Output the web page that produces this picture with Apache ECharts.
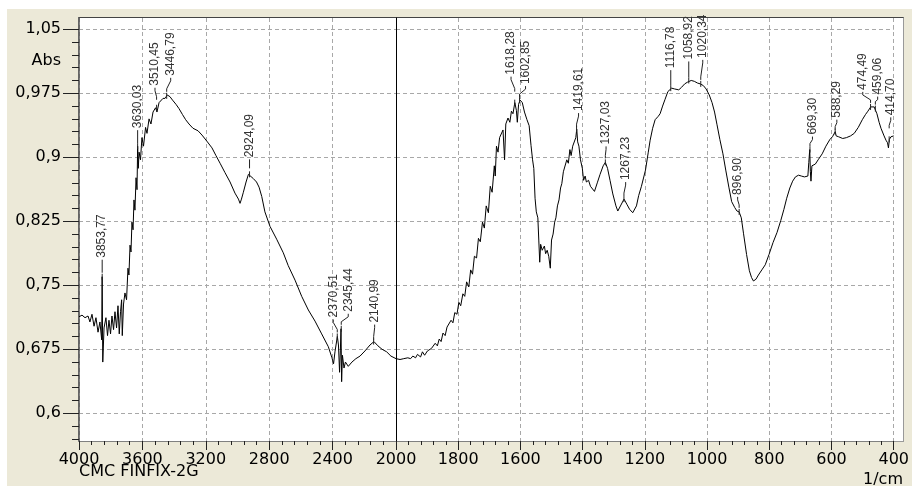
<!DOCTYPE html>
<html>
<head>
<meta charset="utf-8">
<script src="https://cdn.jsdelivr.net/npm/echarts@6/dist/echarts.min.js"></script>
<style>
html,body{margin:0;padding:0;background:#fff;}
#wrap{position:relative;width:912px;height:486px;overflow:hidden;}
#panel{position:absolute;left:7px;top:9px;width:905px;height:477px;background:#ECE9D8;}
#plot{position:absolute;left:78px;top:17px;width:826px;height:425px;background:#fff;box-sizing:border-box;border:1px solid #999;border-top-color:#444;}
#chart{position:absolute;left:0;top:0;width:912px;height:486px;}
</style>
</head>
<body>
<div id="wrap"><div id="panel"></div><div id="plot"></div><div id="chart"></div></div>
<script>
// ---- spectrum (wavenumber in 1/cm, absorbance) ----
const wavenumbers = [
4000,3981,3962,3943,3931,3918,3905,3893,3880,3868,
3857,3854,3850,3842,3830,3820,3811,3801,3792,3782,
3773,3763,3754,3746,3738,3731,3727,3719,3710,3700,
3691,3685,3678,3672,3666,3659,3653,3647,3640,3634,
3630,3626,3621,3612,3603,3593,3580,3571,3558,3546,
3533,3517,3508,3495,3483,3470,3457,3443,3426,3410,
3388,3369,3347,3327,3306,3281,3249,3224,3194,3161,
3136,3110,3079,3047,3016,2994,2984,2975,2963,2946,
2931,2921,2900,2880,2864,2847,2827,2795,2753,2711,
2680,2637,2595,2553,2511,2469,2427,2404,2394,2385,
2370,2363,2356,2351,2347,2343,2338,2328,2319,2301,
2278,2253,2227,2196,2164,2139,2114,2088,2059,2032,
2000,
1987,1975,1962,1953,1946,1937,1931,1921,1915,1908,
1899,1893,1886,1880,1874,1867,1861,1855,1849,1842,
1836,1830,1823,1817,1811,1804,1798,1792,1785,1779,
1773,1766,1760,1754,1748,1741,1735,1729,1722,1716,
1710,1703,1697,1691,1684,1681,1677,1672,1667,1662,
1656,1651,1647,1640,1634,1629,1624,1618,1613,1610,
1606,1601,1594,1587,1579,1572,1566,1561,1557,1553,
1549,1544,1541,1538,1535,1530,1523,1519,1514,1509,
1504,1500,1495,1490,1486,1481,1476,1471,1467,1462,
1457,1451,1446,1441,1437,1432,1427,1422,1419,1416,
1412,1407,1401,1397,1392,1388,1381,1375,1369,1362,
1353,1344,1334,1327,1320,1312,1303,1293,1287,1277,
1267,1258,1249,1239,1235,1227,1220,1211,1198,1189,
1183,1175,1167,1157,1151,1143,1135,1126,1114,1104,
1091,1082,1072,1063,1051,1041,1031,1022,1012,1003,
993,984,976,968,959,949,940,930,921,911,
904,897,890,883,873,864,857,851,843,835,
824,813,801,788,775,763,753,744,734,725,
716,706,697,687,681,676,673,670,668,666,
663,659,652,643,630,618,605,597,592,588,
585,577,564,552,539,527,514,501,491,483,
474,468,463,459,454,447,441,431,425,420,
417,414,409,403,400
];
const absorbance = [
0.713,0.715,0.712,0.714,0.707,0.716,0.702,0.712,0.695,0.707,
0.686,0.760,0.660,0.700,0.712,0.691,0.709,0.693,0.714,0.698,
0.719,0.700,0.726,0.693,0.719,0.733,0.691,0.728,0.741,0.733,
0.770,0.762,0.797,0.789,0.824,0.815,0.850,0.838,0.876,0.862,
0.913,0.887,0.906,0.897,0.923,0.913,0.935,0.928,0.945,0.939,
0.953,0.958,0.953,0.964,0.962,0.969,0.969,0.973,0.971,0.967,
0.962,0.957,0.950,0.944,0.939,0.934,0.931,0.926,0.919,0.911,
0.902,0.893,0.882,0.871,0.858,0.851,0.846,0.851,0.859,0.871,
0.880,0.880,0.875,0.871,0.865,0.854,0.836,0.819,0.804,0.788,
0.773,0.756,0.737,0.721,0.708,0.693,0.678,0.665,0.658,0.672,
0.690,0.680,0.648,0.674,0.699,0.637,0.668,0.653,0.660,0.655,
0.660,0.664,0.667,0.673,0.680,0.684,0.679,0.675,0.672,0.667,
0.664,
0.663,0.664,0.665,0.664,0.667,0.665,0.669,0.666,0.672,0.668,
0.673,0.671,0.676,0.674,0.682,0.679,0.687,0.684,0.694,0.691,
0.701,0.699,0.709,0.706,0.718,0.716,0.730,0.726,0.740,0.737,
0.754,0.748,0.768,0.763,0.784,0.782,0.805,0.801,0.824,0.817,
0.843,0.835,0.866,0.859,0.890,0.878,0.913,0.906,0.923,0.925,
0.932,0.897,0.939,0.946,0.941,0.954,0.951,0.964,0.955,0.941,
0.962,0.967,0.964,0.953,0.944,0.937,0.914,0.897,0.887,0.852,
0.836,0.829,0.803,0.777,0.798,0.791,0.796,0.787,0.791,0.784,
0.770,0.803,0.810,0.824,0.829,0.843,0.850,0.864,0.869,0.883,
0.885,0.897,0.893,0.909,0.902,0.913,0.911,0.923,0.933,0.918,
0.913,0.897,0.887,0.873,0.878,0.871,0.873,0.866,0.868,0.860,
0.870,0.880,0.890,0.894,0.887,0.873,0.857,0.843,0.837,0.844,
0.851,0.845,0.839,0.835,0.834,0.843,0.855,0.866,0.885,0.906,
0.920,0.934,0.944,0.948,0.951,0.960,0.968,0.977,0.981,0.980,
0.979,0.982,0.986,0.988,0.990,0.989,0.987,0.986,0.984,0.980,
0.973,0.964,0.953,0.938,0.921,0.904,0.885,0.865,0.848,0.841,
0.837,0.836,0.829,0.811,0.786,0.767,0.759,0.755,0.757,0.762,
0.768,0.774,0.786,0.800,0.812,0.826,0.839,0.852,0.864,0.872,
0.877,0.879,0.878,0.877,0.879,0.878,0.894,0.909,0.883,0.872,
0.890,0.891,0.892,0.897,0.904,0.913,0.921,0.924,0.924,0.930,
0.925,0.924,0.922,0.923,0.925,0.928,0.935,0.944,0.950,0.954,
0.959,0.958,0.959,0.957,0.951,0.941,0.934,0.925,0.920,0.917,
0.911,0.921,0.924,0.926,0.925
];

// ---- peak annotations ----
const peakLabels = ['3853,77','3630,03','3510,45','3446,79','2924,09','2370,51','2345,44','2140,99',
  '1618,28','1602,85','1419,61','1327,03','1267,23','1116,78','1058,92','1020,34','896,90',
  '669,30','588,29','474,49','459,06','414,70'];
const peakWavenumbers = [3853.77,3630.03,3510.45,3446.79,2924.09,2370.51,2345.44,2140.99,
  1618.28,1602.85,1419.61,1327.03,1267.23,1116.78,1058.92,1020.34,896.90,
  669.30,588.29,474.49,459.06,414.70];
const peakAbsorbance = [0.760,0.913,0.958,0.972,0.880,0.690,0.699,0.684,
  0.964,0.967,0.933,0.894,0.851,0.981,0.990,0.986,0.836,
  0.909,0.930,0.959,0.957,0.921];

// ---- axis ticks / labels ----
const yMajorTicks = [0.6,0.675,0.75,0.825,0.9,0.975,1.05];
const yUnitLabel = 'Abs';
const yUnitLabelAt = 1.0125;
const yMin = 0.5675, yMax = 1.0632;
const xLeftRange = [2000, 4000], xLeftStep = 400;
const xRightRange = [400, 2000], xRightStep = 200;
const sampleName = 'CMC FINFIX-2G';
const xUnit = '1/cm';

// layout of annotation leaders (px): horizontal shift, gap above peak, leader length
const leaderShift = [0,0,-1.6,4,0,-4,7,1,-3.7,6,2,0.7,1.7,0,0,2,-1.5,2.5,1.7,-7.8,2.3,1.6];
const leaderGap   = [4,3,8,4,6,4,4,2,11,3,2,4,3,3,3,4,4,3,2,4,4,11];
const leaderLen   = [13,13,12,14,9,13,11,15,15,11,14,12,14,15,16,20,11,10,10,11,8,11];

// ---- build ----
const leftData = [], rightData = [];
wavenumbers.forEach((w, i) => {
  if (w >= 2000) leftData.push([w, absorbance[i]]);
  if (w <= 2000) rightData.push([w, absorbance[i]]);
});
const peaksLeft = [], peaksRight = [];
peakWavenumbers.forEach((w, i) => {
  const item = {value: [w, peakAbsorbance[i]], idx: i};
  (w > 2000 ? peaksLeft : peaksRight).push(item);
});
const yMinorTicks = [];
for (let k = 38; k <= 70; k++) { if (k % 5 !== 0) yMinorTicks.push(+(k * 0.015).toFixed(4)); }

const FONT = '"DejaVu Sans", sans-serif';
const gridLine = {show: true, lineStyle: {color: '#a8a8a8', type: [4, 3], width: 1}};
const fmtY = v => Math.abs(v - yUnitLabelAt) < 1e-6 ? yUnitLabel : String(+v.toFixed(3)).replace('.', ',');

function peakRenderer(list) {
  return function (params, api) {
    const i = list[params.dataIndex].idx;
    const p = api.coord([api.value(0), api.value(1)]);
    const x0 = p[0], y0 = p[1];
    const dx = leaderShift[i], g = leaderGap[i], L = leaderLen[i];
    const yb = y0 - g, yt = yb - L;
    const pts = dx === 0 ? [[x0, yb], [x0, yt]] : [[x0, yb], [x0, yb - 3], [x0 + dx, yt + 3], [x0 + dx, yt]];
    return {
      type: 'group',
      children: [
        {type: 'line', shape: {x1: x0, y1: y0 - 3, x2: x0, y2: y0 + 3}, style: {stroke: '#222', lineWidth: 1}},
        {type: 'polyline', shape: {points: pts}, style: {stroke: '#222', lineWidth: 1, fill: null}},
        {type: 'text', x: x0 + dx, y: yt - 2, rotation: Math.PI / 2,
          style: {text: peakLabels[i], font: '12px "Liberation Sans", Arial, sans-serif', fill: '#333',
            textAlign: 'left', textVerticalAlign: 'middle'}}
      ]
    };
  };
}

const xCommon = {
  type: 'value', inverse: true,
  axisLine: {show: true, onZero: false, lineStyle: {color: '#808080', width: 1}},
  axisTick: {show: true, length: 9, lineStyle: {color: '#222'}},
  minorTick: {show: true, splitNumber: 5, length: 4, lineStyle: {color: '#222'}},
  splitLine: gridLine
};

const chart = echarts.init(document.getElementById('chart'), null, {renderer: 'canvas'});
chart.setOption({
  animation: false,
  backgroundColor: 'transparent',
  grid: [
    {left: 79, top: 18, width: 317, height: 423, show: false},
    {left: 396, top: 18, width: 507, height: 423, show: false}
  ],
  xAxis: [
    Object.assign({}, xCommon, {gridIndex: 0, min: xLeftRange[0], max: xLeftRange[1], interval: xLeftStep,
      axisLabel: {margin: 11, fontSize: 16, fontFamily: FONT, color: '#000', formatter: v => String(v)}}),
    Object.assign({}, xCommon, {gridIndex: 1, min: xRightRange[0], max: xRightRange[1], interval: xRightStep,
      axisLabel: {margin: 11, fontSize: 16, fontFamily: FONT, color: '#000',
        formatter: v => v === xRightRange[1] ? '' : String(v)}})
  ],
  yAxis: [
    {gridIndex: 0, type: 'value', position: 'left', offset: 0, min: yMin, max: yMax,
      axisLine: {show: true, lineStyle: {color: '#555', width: 1.5}},
      axisTick: {show: true, length: 16, customValues: yMajorTicks, lineStyle: {color: '#222'}},
      axisLabel: {customValues: yMajorTicks.concat([yUnitLabelAt]), formatter: fmtY, margin: 18,
        fontSize: 16, fontFamily: FONT, color: '#000'},
      splitLine: gridLine},
    {gridIndex: 1, type: 'value', position: 'left', offset: 0, min: yMin, max: yMax,
      axisLine: {show: true, lineStyle: {color: '#000', width: 1}},
      axisTick: {show: false, customValues: yMajorTicks},
      axisLabel: {show: false},
      splitLine: gridLine},
    {gridIndex: 0, type: 'value', position: 'left', offset: 0, min: yMin, max: yMax,
      axisLine: {show: false},
      axisTick: {show: true, length: 7, customValues: yMinorTicks, lineStyle: {color: '#222'}},
      axisLabel: {show: false},
      splitLine: {show: false}}
  ],
  graphic: [
    {type: 'text', left: 79, top: 464, style: {text: sampleName, font: '16px ' + FONT, fill: '#000'}},
    {type: 'text', right: 9, top: 472, style: {text: xUnit, font: '16px ' + FONT, fill: '#000'}}
  ],
  series: [
    {type: 'line', xAxisIndex: 0, yAxisIndex: 0, data: leftData, symbol: 'none', silent: true,
      lineStyle: {color: '#000', width: 1}, z: 3},
    {type: 'line', xAxisIndex: 1, yAxisIndex: 1, data: rightData, symbol: 'none', silent: true,
      lineStyle: {color: '#000', width: 1}, z: 3},
    {type: 'custom', coordinateSystem: 'cartesian2d', xAxisIndex: 0, yAxisIndex: 0, silent: true, clip: false,
      data: peaksLeft.map(d => d.value), renderItem: peakRenderer(peaksLeft), z: 4},
    {type: 'custom', coordinateSystem: 'cartesian2d', xAxisIndex: 1, yAxisIndex: 1, silent: true, clip: false,
      data: peaksRight.map(d => d.value), renderItem: peakRenderer(peaksRight), z: 4}
  ]
});
</script>
</body>
</html>
